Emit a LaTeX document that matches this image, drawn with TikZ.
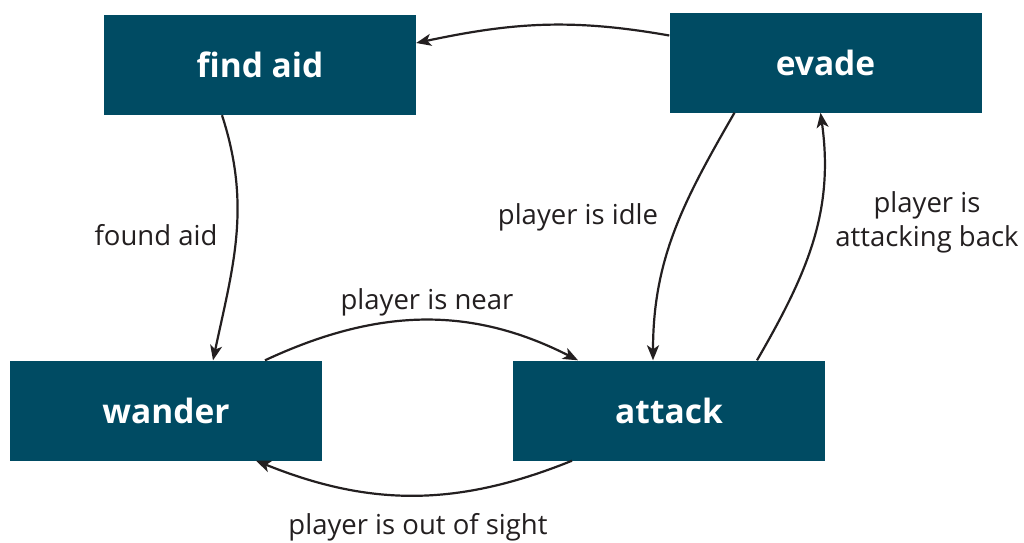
\documentclass[tikz,border=0pt]{standalone}
\usepackage{fontspec}
\setmainfont{Open Sans}
\usetikzlibrary{arrows.meta}
\definecolor{boxteal}{HTML}{004B63}
\definecolor{ink}{HTML}{231F20}
\begin{document}
\begin{tikzpicture}[x=1pt,y=1pt,
  state/.style={fill=boxteal, text=white, minimum width=312pt, minimum height=100pt, inner sep=0pt, font=\fontsize{33.5}{38}\selectfont\bfseries},
  trans/.style={draw=ink, line width=2.2pt, -{Stealth[length=15pt,width=12pt,inset=4pt]}},
  lbl/.style={text=ink, font=\fontsize{27.5}{34}\selectfont, align=center}]
\useasboundingbox (0,0) rectangle (1024,-542);
\fill[white] (0,0) rectangle (1024,-542);
\node[state] (fa) at (260,-65) {find aid};
\node[state] (ev) at (825.5,-62.5) {evade};
\node[state] (wa) at (166,-410.5) {wander};
\node[state] (at) at (669,-410.5) {attack};
% evade -> find aid
\draw[trans] ([yshift=27pt]ev.west) to[out=170,in=12] ([yshift=22pt]fa.east);
% find aid -> wander
\draw[trans] ([xshift=-38pt]fa.south) to[out=-72,in=78] ([xshift=47pt]wa.north);
% wander -> attack
\draw[trans] ([xshift=99pt]wa.north) to[out=25,in=153] ([xshift=-91pt]at.north);
% attack -> wander
\draw[trans] ([xshift=-97pt]at.south) to[out=-158,in=-22] ([xshift=90pt]wa.south);
% evade -> attack
\draw[trans] ([xshift=-91pt]ev.south) to[out=-120,in=90] ([xshift=-16pt]at.north);
% attack -> evade
\draw[trans] ([xshift=88pt]at.north) to[out=60,in=-82] ([xshift=-5pt]ev.south);
\node[lbl] (l1) at (156,-235) {found aid};
\node[lbl] (l2) at (578,-217) {player is idle};
\node[lbl] (l3) at (927,-222) {player is\\attacking back};
\node[lbl] (l4) at (427,-302) {player is near};
\node[lbl] (l5) at (418,-527) {player is out of sight};
\end{tikzpicture}
\end{document}
